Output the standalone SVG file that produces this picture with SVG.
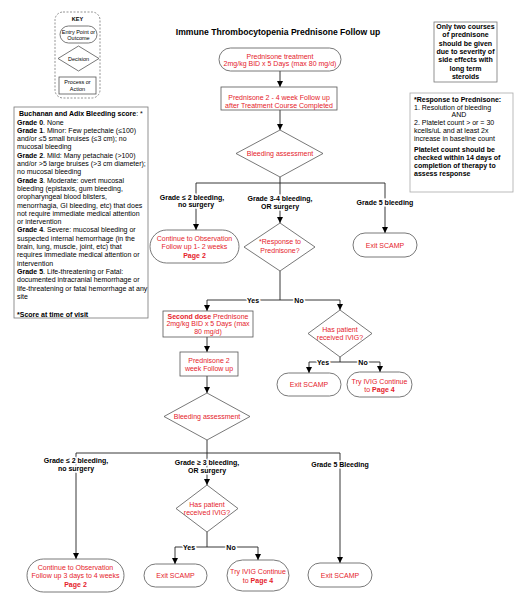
<svg xmlns="http://www.w3.org/2000/svg" width="524" height="600" viewBox="0 0 524 600">
<style>
text{font-family:"Liberation Sans",Arial,sans-serif;font-size:7px}
.r{fill:#e5222b;text-anchor:middle}
.b{font-weight:bold}
.k{fill:#000}
.c{text-anchor:middle}
.shape{fill:#fff;stroke:#555;stroke-width:0.8}
.line{fill:none;stroke:#222;stroke-width:0.9}
.lbl{fill:#000;font-weight:bold;text-anchor:middle;stroke:#fff;stroke-width:3;paint-order:stroke}
.key{font-size:5.5px;text-anchor:middle;fill:#000}
</style>
<defs>
<marker id="ah" viewBox="0 0 10 10" refX="10" refY="5" markerWidth="6" markerHeight="6" markerUnits="userSpaceOnUse" orient="auto">
<path d="M0,0 L10,5 L0,10 z" fill="#000"/>
</marker>
</defs>
<rect width="524" height="600" fill="#fff"/>

<g id="key">
<rect x="55" y="12" width="45" height="86" rx="8" fill="#fff" stroke="#666" stroke-width="0.7" stroke-dasharray="2,1.5"/>
<text class="key b" x="77.5" y="21">KEY</text>
<rect x="60" y="26" width="37" height="17" rx="8.5" class="shape"/>
<text class="key" x="78.5" y="33.5">Entry Point or</text>
<text class="key" x="78.5" y="39.5">Outcome</text>
<polygon points="58,58.5 78.5,46 99,58.5 78.5,71" class="shape"/>
<text class="key" x="78.5" y="60.5">Decision</text>
<rect x="59" y="77" width="37" height="17" class="shape"/>
<text class="key" x="77.5" y="84">Process or</text>
<text class="key" x="77.5" y="90.5">Action</text>
</g>

<g id="scorebox">
<rect x="14" y="107" width="134" height="211" fill="#fff" stroke="#777" stroke-width="0.8"/>
<text x="19" y="115.5"><tspan class="b">Buchanan and Adix Bleeding score</tspan>: *</text>
<text x="17" y="124.5"><tspan class="b">Grade 0</tspan>.  None</text>
<text x="17" y="132.8"><tspan class="b">Grade 1</tspan>. Minor:  Few petechaie  (≤100)</text>
<text x="17" y="141.1">and/or ≤5 small bruises (≤3 cm); no</text>
<text x="17" y="149.4">mucosal bleeding</text>
<text x="17" y="157.7"><tspan class="b">Grade 2</tspan>.  Mild: Many petachaie (&gt;100)</text>
<text x="17" y="166">and/or &gt;5 large bruises (&gt;3 cm diameter);</text>
<text x="17" y="174.3">no mucosal bleeding</text>
<text x="17" y="182.6"><tspan class="b">Grade 3</tspan>. Moderate: overt mucosal</text>
<text x="17" y="190.9">bleeding (epistaxis, gum bleeding,</text>
<text x="17" y="199.2">oropharyngeal blood blisters,</text>
<text x="17" y="207.5">menorrhagia, GI bleeding, etc) that does</text>
<text x="17" y="215.8">not require immediate medical attention</text>
<text x="17" y="224.1">or intervention</text>
<text x="17" y="232.4"><tspan class="b">Grade 4</tspan>. Severe: mucosal bleeding or</text>
<text x="17" y="240.7">suspected internal hemorrhage (in the</text>
<text x="17" y="249">brain, lung, muscle, joint, etc) that</text>
<text x="17" y="257.3">requires immediate medical attention or</text>
<text x="17" y="265.6">intervention</text>
<text x="17" y="273.9"><tspan class="b">Grade 5</tspan>. Life-threatening or Fatal:</text>
<text x="17" y="282.2">documented intracranial hemorrhage or</text>
<text x="17" y="290.5">life-threatening or fatal hemorrhage at any</text>
<text x="17" y="298.8">site</text>
<text x="17" y="316.5" class="b">*Score at time of visit</text>
</g>

<text x="278" y="35" class="b c" style="font-size:8.6px">Immune Thrombocytopenia Prednisone Follow up</text>

<g id="note1">
<rect x="434" y="22" width="63" height="60" fill="#fff" stroke="#777" stroke-width="0.8"/>
<text class="b c" x="465.5" y="29">Only two courses</text>
<text class="b c" x="465.5" y="37.3">of prednisone</text>
<text class="b c" x="465.5" y="45.6">should be given</text>
<text class="b c" x="465.5" y="53.9">due to severity of</text>
<text class="b c" x="465.5" y="62.2">side effects with</text>
<text class="b c" x="465.5" y="70.5">long term</text>
<text class="b c" x="465.5" y="78.8">steroids</text>
</g>

<g id="note2">
<rect x="410" y="93" width="103" height="99" fill="#fff" stroke="#aaa" stroke-width="0.8"/>
<text class="b" x="414" y="101.5">*Response to Prednisone:</text>
<text x="414" y="109.5">1. Resolution of bleeding</text>
<text class="c" x="459" y="117">AND</text>
<text x="414" y="124.5">2. Platelet count &gt; or = 30</text>
<text x="414" y="132.5">kcells/uL and at least 2x</text>
<text x="414" y="140.5">increase in baseline count</text>
<text class="b" x="414" y="151.5">Platelet count should be</text>
<text class="b" x="414" y="159.8">checked within 14 days of</text>
<text class="b" x="414" y="168.1">completion of therapy to</text>
<text class="b" x="414" y="176.4">assess response</text>
</g>

<g id="connectors">
<line class="line" x1="280" y1="71" x2="280" y2="87" marker-end="url(#ah)"/>
<line class="line" x1="280" y1="110" x2="280" y2="130" marker-end="url(#ah)"/>
<path class="line" d="M280,177 V183 M196,183 H385"/>
<line class="line" x1="196" y1="183" x2="196" y2="230" marker-end="url(#ah)"/>
<line class="line" x1="280" y1="183" x2="280" y2="223" marker-end="url(#ah)"/>
<line class="line" x1="385" y1="183" x2="385" y2="233" marker-end="url(#ah)"/>
<path class="line" d="M280,271 V300 M207,300 H340"/>
<line class="line" x1="207" y1="300" x2="207" y2="311" marker-end="url(#ah)"/>
<line class="line" x1="340" y1="300" x2="340" y2="310" marker-end="url(#ah)"/>
<line class="line" x1="207" y1="337" x2="207" y2="352" marker-end="url(#ah)"/>
<line class="line" x1="207" y1="376" x2="207" y2="393" marker-end="url(#ah)"/>
<path class="line" d="M340,357 V362 M309,362 H380"/>
<line class="line" x1="309" y1="362" x2="309" y2="373" marker-end="url(#ah)"/>
<line class="line" x1="380" y1="362" x2="380" y2="372" marker-end="url(#ah)"/>
<path class="line" d="M207,440 V453 M76,453 H340"/>
<line class="line" x1="76" y1="453" x2="76" y2="559" marker-end="url(#ah)"/>
<line class="line" x1="207" y1="453" x2="207" y2="485" marker-end="url(#ah)"/>
<line class="line" x1="340" y1="453" x2="340" y2="563" marker-end="url(#ah)"/>
<path class="line" d="M207,532 V547 M175,547 H258"/>
<line class="line" x1="175" y1="547" x2="175" y2="564" marker-end="url(#ah)"/>
<line class="line" x1="258" y1="547" x2="258" y2="560" marker-end="url(#ah)"/>
<text class="lbl" x="192" y="199.5">Grade ≤ 2 bleeding,</text>
<text class="lbl" x="196" y="207">no surgery</text>
<text class="lbl" x="280" y="200.5">Grade 3-4 bleeding,</text>
<text class="lbl" x="280" y="209">OR surgery</text>
<text class="lbl" x="385" y="204.5">Grade 5 bleeding</text>
<text class="lbl" x="253" y="302.5">Yes</text>
<text class="lbl" x="299" y="302.5">No</text>
<text class="lbl" x="323" y="364.5">Yes</text>
<text class="lbl" x="363" y="364.5">No</text>
<text class="lbl" x="76" y="462.5">Grade ≤ 2 bleeding,</text>
<text class="lbl" x="76" y="471">no surgery</text>
<text class="lbl" x="207" y="464.5">Grade ≥ 3 bleeding,</text>
<text class="lbl" x="207" y="473">OR surgery</text>
<text class="lbl" x="340" y="466.5">Grade 5 Bleeding</text>
<text class="lbl" x="189" y="549.5">Yes</text>
<text class="lbl" x="231" y="549.5">No</text>
</g>

<g id="start">
<rect x="219" y="48" width="122" height="23" rx="11.5" class="shape"/>
<text class="r" x="280" y="58.5">Prednisone treatment</text>
<text class="r" x="280" y="66">2mg/kg BID x 5 Days (max 80 mg/d)</text>
</g>
<g id="followup1">
<rect x="221" y="87" width="116" height="23" class="shape"/>
<text class="r" x="279" y="99.5">Prednisone 2 - 4 week Follow up</text>
<text class="r" x="279" y="107.5">after Treatment Course Completed</text>
</g>
<g id="bleed1">
<polygon points="236,153.5 280,130 323,153.5 280,177" class="shape"/>
<text class="r" x="280" y="156">Bleeding assessment</text>
</g>
<g id="continue1">
<rect x="150" y="230" width="89" height="33" rx="16.5" class="shape"/>
<text class="r" x="194.5" y="240.5">Continue to Observation</text>
<text class="r" x="194.5" y="249">Follow up  1- 2 weeks</text>
<text class="r b" x="194.5" y="257.5">Page 2</text>
</g>
<g id="response">
<polygon points="244,247 280,223 315,247 280,271" class="shape"/>
<text class="r" x="280" y="243.5">*Response to</text>
<text class="r" x="280" y="252.5">Prednisone?</text>
</g>
<g id="exit1">
<rect x="353" y="233" width="64" height="24" rx="12" class="shape"/>
<text class="r" x="385" y="247.5">Exit SCAMP</text>
</g>
<g id="seconddose">
<rect x="163" y="311" width="90" height="26" class="shape"/>
<text class="r" x="208" y="318.5"><tspan class="b">Second dose</tspan> Prednisone</text>
<text class="r" x="208" y="326">2mg/kg BID x 5 Days (max</text>
<text class="r" x="208" y="333.5">80 mg/d)</text>
</g>
<g id="ivig1">
<polygon points="308,333.5 340,310 372,333.5 340,357" class="shape"/>
<text class="r" x="340" y="331.5">Has patient</text>
<text class="r" x="340" y="339.5">received IVIG?</text>
</g>
<g id="exit2">
<rect x="277" y="373" width="64" height="23" rx="11.5" class="shape"/>
<text class="r" x="309" y="387">Exit SCAMP</text>
</g>
<g id="tryivig1">
<rect x="347" y="372" width="65" height="25" rx="12.5" class="shape"/>
<text class="r" x="379.5" y="383.5">Try IVIG Continue</text>
<text class="r" x="379.5" y="391.5">to <tspan class="b">Page 4</tspan></text>
</g>
<g id="followup2">
<rect x="180" y="352" width="58" height="24" class="shape"/>
<text class="r" x="209" y="362.5">Prednisone 2</text>
<text class="r" x="209" y="370.5">week Follow up</text>
</g>
<g id="bleed2">
<polygon points="164,416.5 207,393 250,416.5 207,440" class="shape"/>
<text class="r" x="207" y="419">Bleeding assessment</text>
</g>
<g id="ivig2">
<polygon points="176,508.5 207,485 238,508.5 207,532" class="shape"/>
<text class="r" x="207" y="506.5">Has patient</text>
<text class="r" x="207" y="514.5">received IVIG?</text>
</g>
<g id="continue2">
<rect x="27" y="559" width="97" height="33" rx="16.5" class="shape"/>
<text class="r" x="75.5" y="569.5">Continue to Observation</text>
<text class="r" x="75.5" y="578">Follow up  3 days to 4 weeks</text>
<text class="r b" x="75.5" y="586.5">Page 2</text>
</g>
<g id="exit3">
<rect x="144" y="564" width="63" height="23" rx="11.5" class="shape"/>
<text class="r" x="175.5" y="578">Exit SCAMP</text>
</g>
<g id="tryivig2">
<rect x="227" y="560" width="62" height="31" rx="15.5" class="shape"/>
<text class="r" x="258" y="573.5">Try IVIG Continue</text>
<text class="r" x="258" y="582.5">to <tspan class="b">Page 4</tspan></text>
</g>
<g id="exit4">
<rect x="308" y="563" width="64" height="24" rx="12" class="shape"/>
<text class="r" x="340" y="577.5">Exit SCAMP</text>
</g>
</svg>
